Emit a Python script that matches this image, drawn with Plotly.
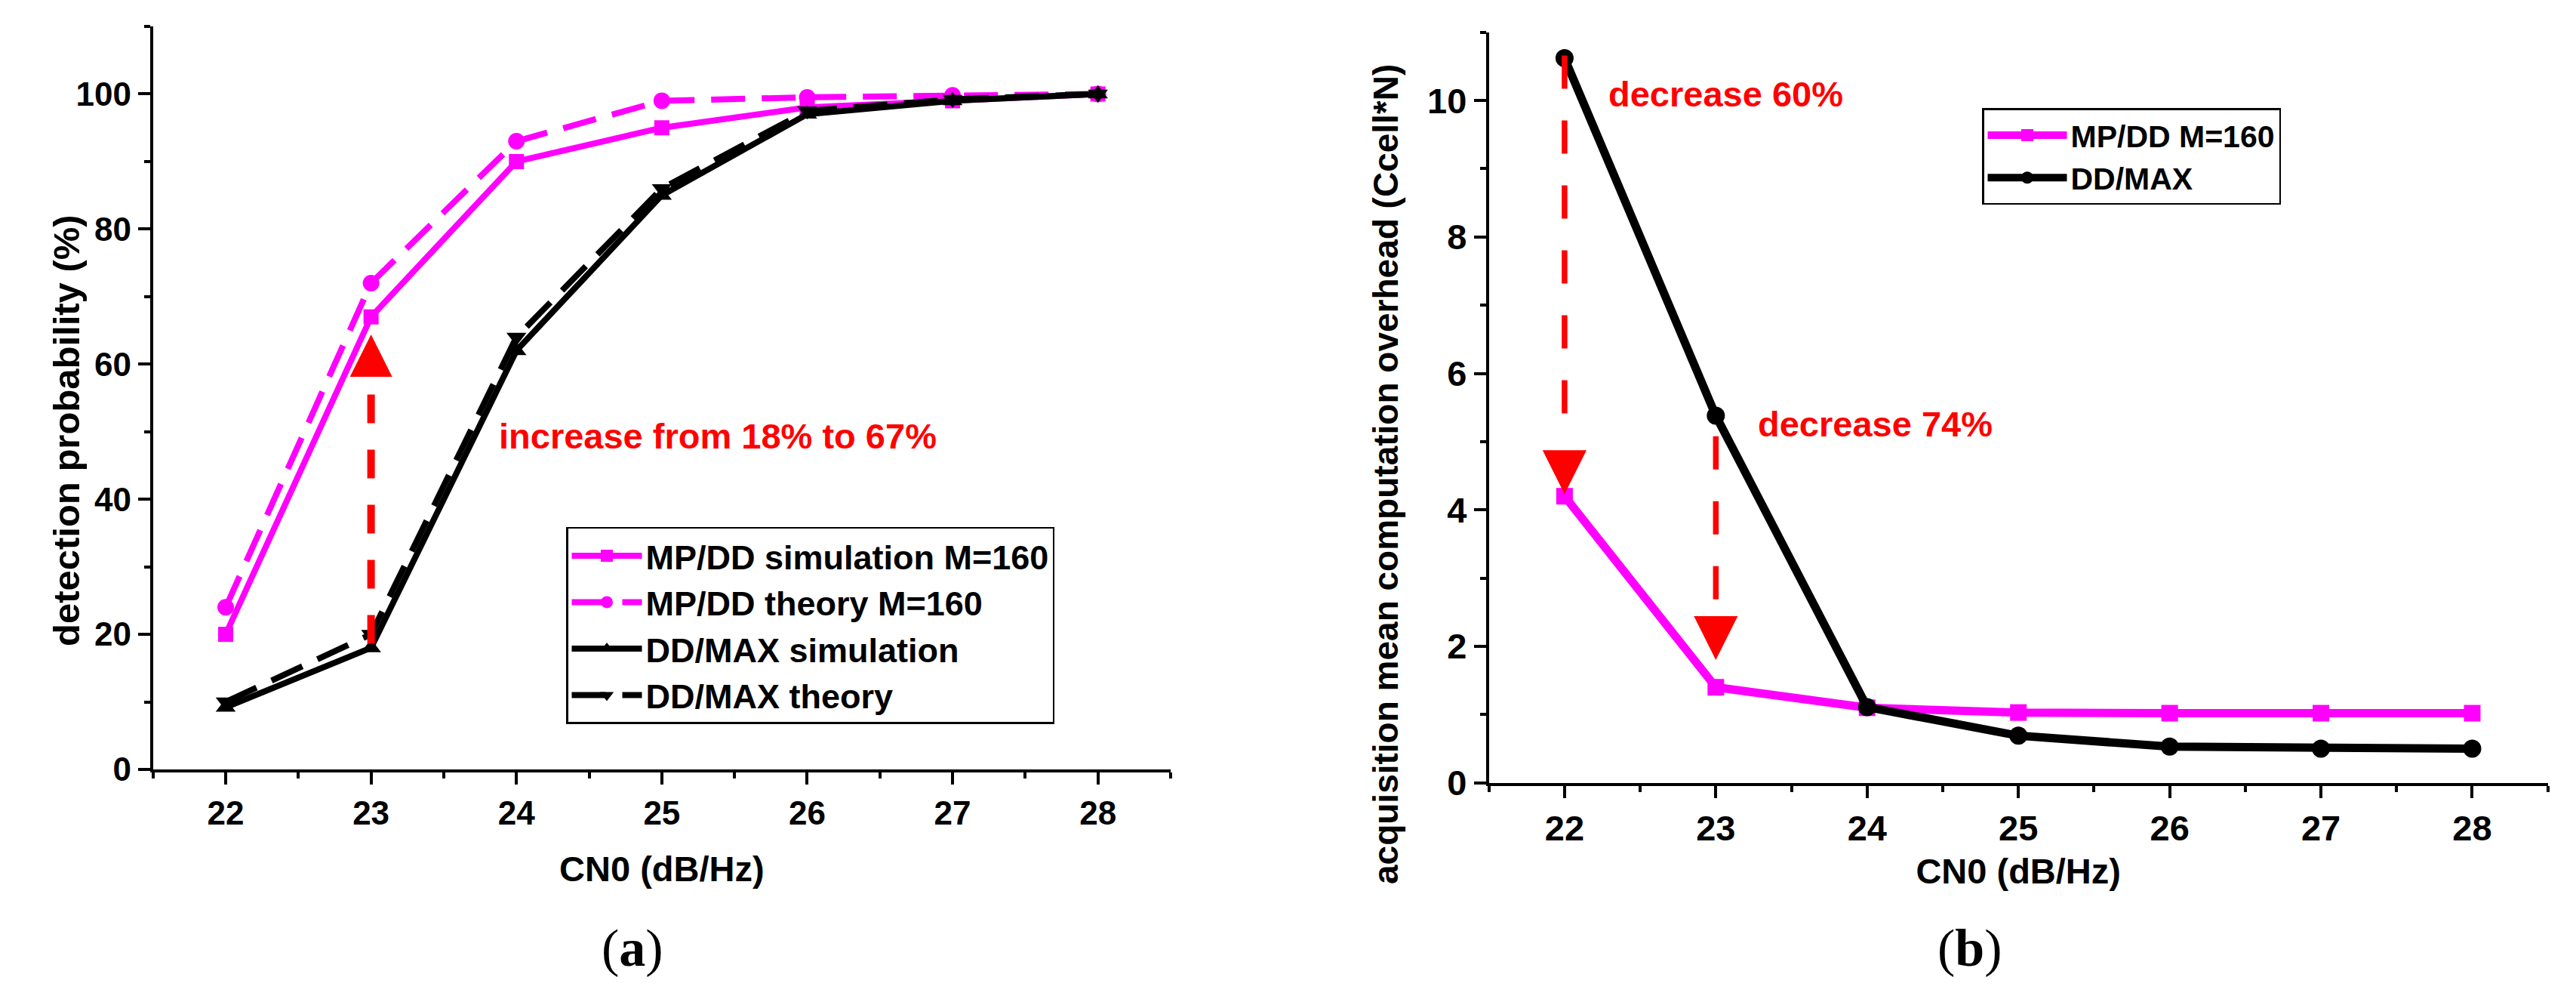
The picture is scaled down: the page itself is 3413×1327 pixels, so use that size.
import plotly.graph_objects as go

# ---------------- data ----------------
CN0 = [22, 23, 24, 25, 26, 27, 28]

# panel (a): detection probability (%)
MPDD_SIM = [20, 67, 90, 95, 98, 99, 100]
MPDD_THEORY = [24, 72, 93, 99, 99.5, 99.8, 100]
DDMAX_SIM = [9.2, 18, 62, 85, 97, 99, 100]
DDMAX_THEORY = [10, 20, 64, 86, 97.5, 99.2, 100]

# panel (b): acquisition mean computation overhead (Ccell*N)
OVERHEAD_MPDD = [4.2, 1.4, 1.1, 1.03, 1.02, 1.02, 1.02]
OVERHEAD_DDMAX = [10.62, 5.38, 1.11, 0.69, 0.53, 0.5, 0.5]

X_TICKS = [22, 23, 24, 25, 26, 27, 28]
YA_TICKS = [0, 20, 40, 60, 80, 100]
YB_TICKS = [0, 2, 4, 6, 8, 10]

# red annotation arrows (x, dashed shaft y from/to, head tail/tip y)
ARROW_A_X = [23, 23]
ARROW_A_SHAFT_Y = [55.5, 17.0]
ARROW_A_HEAD_Y = [58.6, 64.4]
ARROW_B1_X = [22, 22]
ARROW_B1_SHAFT_Y = [10.66, 4.95]
ARROW_B1_HEAD_Y = [4.85, 4.23]
ARROW_B2_X = [23, 23]
ARROW_B2_SHAFT_Y = [5.08, 2.45]
ARROW_B2_HEAD_Y = [2.36, 1.8]

TEXT_A = "increase from 18% to 67%"
TEXT_A_POS = [23.87, 49.4]
TEXT_B1 = "decrease 60%"
TEXT_B1_POS = [22.28, 10.1]
TEXT_B2 = "decrease 74%"
TEXT_B2_POS = [23.27, 5.26]

# ---------------- style ----------------
W, H = 3413, 1327
MAGENTA = "#FF00FF"
RED = "#FF0000"
BLACK = "#000000"
SANS = "Liberation Sans"
SERIF = "Liberation Serif"


def px_x(p):
    return p / W


def px_y(p):
    return 1 - p / H


fig = go.Figure()

# ---- panel (a) ----
fig.add_trace(go.Scatter(
    x=CN0, y=MPDD_SIM, mode="lines+markers", name="MP/DD simulation M=160",
    line=dict(color=MAGENTA, width=8),
    marker=dict(symbol="square", size=20, color=MAGENTA),
    xaxis="x", yaxis="y", legend="legend"))
fig.add_trace(go.Scatter(
    x=CN0, y=MPDD_THEORY, mode="lines+markers", name="MP/DD theory M=160",
    line=dict(color=MAGENTA, width=8, dash="45px,22px"),
    marker=dict(symbol="circle", size=22, color=MAGENTA),
    xaxis="x", yaxis="y", legend="legend"))
fig.add_trace(go.Scatter(
    x=CN0, y=DDMAX_SIM, mode="lines+markers", name="DD/MAX simulation",
    line=dict(color=BLACK, width=8),
    marker=dict(symbol="triangle-up", size=23, color=BLACK),
    xaxis="x", yaxis="y", legend="legend"))
fig.add_trace(go.Scatter(
    x=CN0, y=DDMAX_THEORY, mode="lines+markers", name="DD/MAX theory",
    line=dict(color=BLACK, width=8, dash="45px,22px"),
    marker=dict(symbol="triangle-down", size=23, color=BLACK),
    xaxis="x", yaxis="y", legend="legend"))
fig.add_trace(go.Scatter(
    x=ARROW_A_X, y=ARROW_A_SHAFT_Y, mode="lines", showlegend=False, hoverinfo="skip",
    line=dict(color=RED, width=10, dash="38px,35px"), xaxis="x", yaxis="y"))

# ---- panel (b) ----
fig.add_trace(go.Scatter(
    x=CN0, y=OVERHEAD_MPDD, mode="lines+markers", name="MP/DD M=160",
    line=dict(color=MAGENTA, width=11),
    marker=dict(symbol="square", size=22, color=MAGENTA),
    xaxis="x2", yaxis="y2", legend="legend2"))
fig.add_trace(go.Scatter(
    x=CN0, y=OVERHEAD_DDMAX, mode="lines+markers", name="DD/MAX",
    line=dict(color=BLACK, width=11),
    marker=dict(symbol="circle", size=24, color=BLACK),
    xaxis="x2", yaxis="y2", legend="legend2"))
fig.add_trace(go.Scatter(
    x=ARROW_B1_X, y=ARROW_B1_SHAFT_Y, mode="lines", showlegend=False, hoverinfo="skip",
    line=dict(color=RED, width=7.5, dash="44px,42px"), xaxis="x2", yaxis="y2"))
fig.add_trace(go.Scatter(
    x=ARROW_B2_X, y=ARROW_B2_SHAFT_Y, mode="lines", showlegend=False, hoverinfo="skip",
    line=dict(color=RED, width=7.5, dash="44px,42px"), xaxis="x2", yaxis="y2"))


def axis_style(tick_size, **kw):
    d = dict(
        showline=True, linecolor=BLACK, linewidth=4,
        ticks="outside", ticklen=16, tickwidth=3.5, tickcolor=BLACK,
        showgrid=False, zeroline=False, mirror=False, automargin=False,
        tickfont=dict(family=SANS, size=tick_size, color=BLACK, weight="bold"),
    )
    d.update(kw)
    return d


minor_x = dict(ticks="outside", ticklen=8, tickwidth=3.5, tickcolor=BLACK, dtick=0.5, tick0=21.5, showgrid=False)

fig.update_layout(
    width=W, height=H, autosize=False,
    margin=dict(l=0, r=0, t=0, b=0, pad=0),
    paper_bgcolor="white", plot_bgcolor="white",
    showlegend=True,
    xaxis=axis_style(
        44, domain=[px_x(202.7), px_x(1551)], range=[21.5, 28.5], anchor="y",
        tickmode="array", tickvals=X_TICKS, ticktext=[str(v) for v in X_TICKS],
        minor=minor_x,
        title=dict(text="CN0 (dB/Hz)", standoff=35,
                   font=dict(family=SANS, size=47, color=BLACK, weight="bold"))),
    yaxis=axis_style(
        44, domain=[px_y(1019), px_y(35)], range=[0, 110], anchor="x",
        tickmode="array", tickvals=YA_TICKS, ticktext=[str(v) for v in YA_TICKS],
        minor=dict(ticks="outside", ticklen=8, tickwidth=3.5, tickcolor=BLACK, dtick=10, tick0=0, showgrid=False)),
    xaxis2=axis_style(
        47, domain=[px_x(1972.7), px_x(3375.7)], range=[21.5, 28.5], anchor="y2",
        tickmode="array", tickvals=X_TICKS, ticktext=[str(v) for v in X_TICKS],
        minor=minor_x,
        title=dict(text="CN0 (dB/Hz)", standoff=16,
                   font=dict(family=SANS, size=47, color=BLACK, weight="bold"))),
    yaxis2=axis_style(
        47, domain=[px_y(1036.7), px_y(42.7)], range=[0, 11], anchor="x2",
        tickmode="array", tickvals=YB_TICKS, ticktext=[str(v) for v in YB_TICKS],
        minor=dict(ticks="outside", ticklen=8, tickwidth=3.5, tickcolor=BLACK, dtick=1, tick0=0, showgrid=False)),
    legend=dict(
        x=px_x(750), y=px_y(697.7), xanchor="left", yanchor="top",
        bgcolor="white", bordercolor=BLACK, borderwidth=2.5,
        font=dict(family=SANS, size=45, color=BLACK, weight="bold"),
        itemwidth=93, tracegroupgap=0, itemsizing="trace"),
    legend2=dict(
        x=px_x(2626), y=px_y(143.3), xanchor="left", yanchor="top",
        bgcolor="white", bordercolor=BLACK, borderwidth=2.5,
        font=dict(family=SANS, size=41, color=BLACK, weight="bold"),
        itemwidth=105, tracegroupgap=0, itemsizing="trace"),
)

annotations = [
    # y-axis titles (both sit a little below the axis centre in the original)
    dict(x=px_x(88), y=px_y(570), xref="paper", yref="paper", showarrow=False,
         text="detection probability (%)", textangle=-90,
         xanchor="center", yanchor="middle",
         font=dict(family=SANS, size=49, color=BLACK, weight="bold")),
    dict(x=px_x(1836), y=px_y(628), xref="paper", yref="paper", showarrow=False,
         text="acquisition mean computation overhead (Ccell*N)", textangle=-90,
         xanchor="center", yanchor="middle",
         font=dict(family=SANS, size=46, color=BLACK, weight="bold")),
    # panel (a) text + arrow head
    dict(x=TEXT_A_POS[0], y=TEXT_A_POS[1], xref="x", yref="y", text=TEXT_A, showarrow=False,
         xanchor="left", yanchor="middle",
         font=dict(family=SANS, size=47, color=RED, weight="bold")),
    dict(x=ARROW_A_X[0], y=ARROW_A_HEAD_Y[1], ax=ARROW_A_X[0], ay=ARROW_A_HEAD_Y[0],
         xref="x", yref="y", axref="x", ayref="y", text="", showarrow=True,
         arrowhead=2, arrowsize=1.4, arrowwidth=8, arrowcolor=RED, standoff=0),
    # panel (b) texts + arrow heads
    dict(x=TEXT_B1_POS[0], y=TEXT_B1_POS[1], xref="x2", yref="y2", text=TEXT_B1, showarrow=False,
         xanchor="left", yanchor="middle",
         font=dict(family=SANS, size=47, color=RED, weight="bold")),
    dict(x=TEXT_B2_POS[0], y=TEXT_B2_POS[1], xref="x2", yref="y2", text=TEXT_B2, showarrow=False,
         xanchor="left", yanchor="middle",
         font=dict(family=SANS, size=47, color=RED, weight="bold")),
    dict(x=ARROW_B1_X[0], y=ARROW_B1_HEAD_Y[1], ax=ARROW_B1_X[0], ay=ARROW_B1_HEAD_Y[0],
         xref="x2", yref="y2", axref="x2", ayref="y2", text="", showarrow=True,
         arrowhead=2, arrowsize=1.55, arrowwidth=7.5, arrowcolor=RED, standoff=0),
    dict(x=ARROW_B2_X[0], y=ARROW_B2_HEAD_Y[1], ax=ARROW_B2_X[0], ay=ARROW_B2_HEAD_Y[0],
         xref="x2", yref="y2", axref="x2", ayref="y2", text="", showarrow=True,
         arrowhead=2, arrowsize=1.55, arrowwidth=7.5, arrowcolor=RED, standoff=0),
    # sub-figure captions
    dict(x=px_x(838), y=px_y(1255), xref="paper", yref="paper", showarrow=False,
         text="(<b>a</b>)", xanchor="center", yanchor="middle",
         font=dict(family=SERIF, size=70, color=BLACK)),
    dict(x=px_x(2610), y=px_y(1255), xref="paper", yref="paper", showarrow=False,
         text="(<b>b</b>)", xanchor="center", yanchor="middle",
         font=dict(family=SERIF, size=70, color=BLACK)),
]
fig.update_layout(annotations=annotations)

fig.write_html("out.html")
